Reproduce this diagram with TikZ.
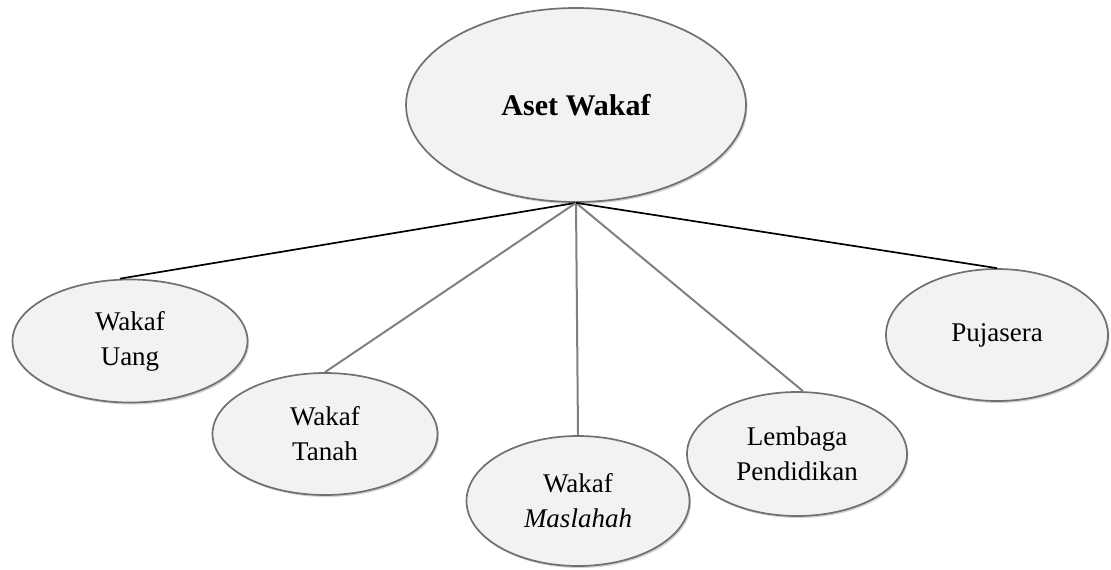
\documentclass[tikz,border=0pt]{standalone}
\usepackage{fontspec}
\setmainfont{Liberation Serif}
\usetikzlibrary{shapes.geometric,shadows}
\definecolor{ellfill}{HTML}{F2F2F2}
\definecolor{ellline}{HTML}{707070}
\definecolor{conngray}{HTML}{808080}
\tikzset{
  ell/.style={ellipse, draw=ellline, line width=1.7pt, fill=ellfill, inner sep=0pt,
    align=center, font=\fontsize{27}{35}\selectfont,
    drop shadow={shadow xshift=1.5pt, shadow yshift=-2pt, fill=black, opacity=0.18}},
  connblack/.style={draw=black, line width=1.7pt},
  conngrayl/.style={draw=conngray, line width=2pt}
}
\begin{document}
\begin{tikzpicture}[x=1pt,y=-1pt]
\useasboundingbox (0,0) rectangle (1111,570);
\node[ell, minimum width=340pt, minimum height=194pt, font=\fontsize{30}{35}\selectfont\bfseries] (root) at (576,105) {Aset Wakaf};
\node[ell, minimum width=235pt, minimum height=123pt] (uang) at (130,341) {Wakaf\\Uang};
\node[ell, minimum width=225pt, minimum height=122pt] (tanah) at (325,434) {Wakaf\\Tanah};
\node[ell, minimum width=223pt, minimum height=130pt] (masl) at (578,501) {Wakaf\\\textit{Maslahah}};
\node[ell, minimum width=220pt, minimum height=124pt] (lemb) at (797,454) {Lembaga\\Pendidikan};
\node[ell, minimum width=222pt, minimum height=132pt] (puja) at (997,335) {Pujasera};
\coordinate (apex) at (root.south);
\path[connblack] (apex) -- ([xshift=-10pt]uang.north);
\path[conngrayl] (apex) -- (tanah.north);
\path[conngrayl] (apex) -- (masl.north);
\path[conngrayl] (apex) -- ([xshift=6pt]lemb.north);
\path[connblack] (apex) -- (puja.north);
\end{tikzpicture}
\end{document}
